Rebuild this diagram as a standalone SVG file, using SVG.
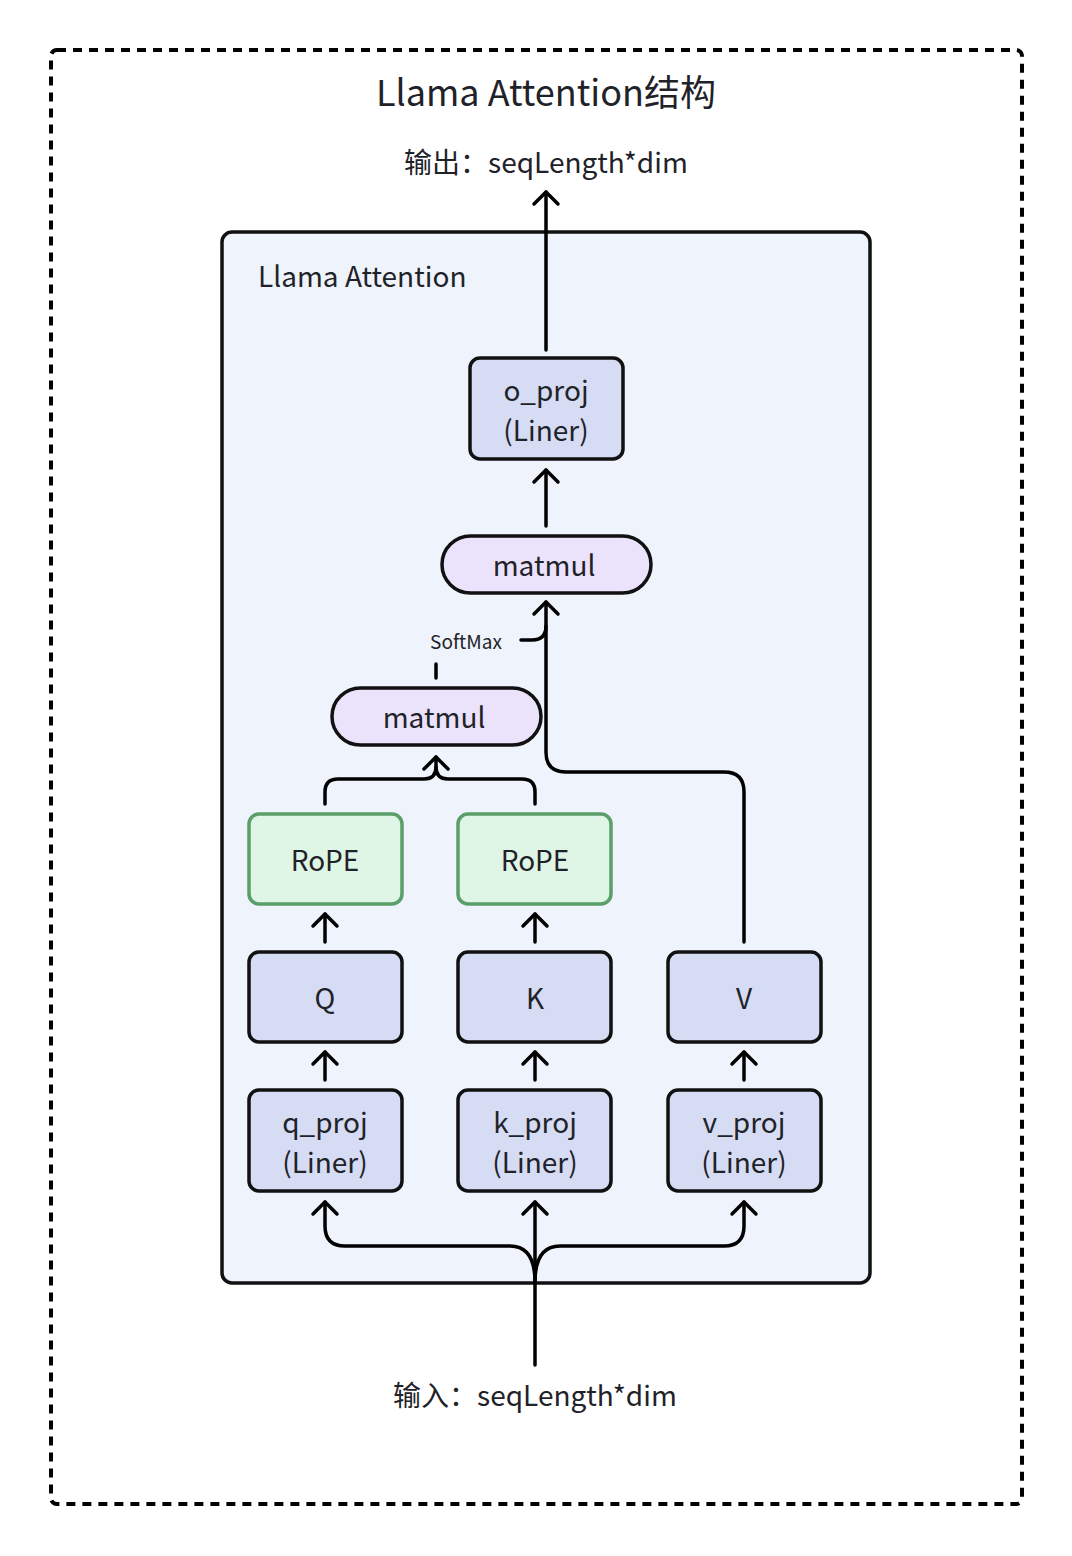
<svg xmlns="http://www.w3.org/2000/svg" width="1072" height="1556" viewBox="0 0 1072 1556">
<style>
text{font-family:"Noto Sans CJK SC","Noto Sans",sans-serif;fill:#1f2329;text-anchor:middle}
.n{fill:#d6dcf3;stroke:#111;stroke-width:3.5}
.m{fill:#ebe2fb;stroke:#111;stroke-width:3.5}
.r{fill:#dff5e5;stroke:#5a9e6a;stroke-width:3.5}
.t{font-size:28px}
.c{fill:none;stroke:#000;stroke-width:3.5;stroke-linecap:round;stroke-linejoin:round}
</style>
<defs>
<marker id="a" viewBox="0 0 30 30" refX="15" refY="15" markerWidth="30" markerHeight="30" markerUnits="userSpaceOnUse" orient="auto">
<path d="M3,3 L15,15 L3,27" fill="none" stroke="#000" stroke-width="3.5" stroke-linecap="round" stroke-linejoin="round"/>
</marker>
</defs>
<rect width="1072" height="1556" fill="#fff"/>
<rect id="frame" x="51" y="50" width="971" height="1454" rx="6" fill="none" stroke="#000" stroke-width="4" stroke-dasharray="9 7"/>
<text x="546" y="106" font-size="36">Llama Attention结构</text>
<text x="546" y="173" font-size="28">输出：seqLength*dim</text>
<text x="535" y="1406" font-size="28">输入：seqLength*dim</text>
<g id="container">
<rect x="222" y="232" width="648" height="1051" rx="10" fill="#eff3fc" stroke="#111" stroke-width="3.5"/>
<text x="258" y="287" font-size="28" style="text-anchor:start">Llama Attention</text>
</g>
<g id="connectors">
<path class="c" d="M546 350 V192" marker-end="url(#a)"/>
<path class="c" d="M546 526 V470" marker-end="url(#a)"/>
<path class="c" d="M744 942 V792 Q744 772 724 772 H566 Q546 772 546 752 V602" marker-end="url(#a)"/>
<path class="c" d="M521 640 H532 Q546 640 546 626"/>
<path class="c" d="M436 664 V678"/>
<path class="c" d="M325 804 V792 Q325 779 338 779 H424 Q436 779 436 767 V757" marker-end="url(#a)"/>
<path class="c" d="M535 804 V792 Q535 779 522 779 H448 Q436 779 436 767"/>
<path class="c" d="M325 942 V914" marker-end="url(#a)"/>
<path class="c" d="M535 942 V914" marker-end="url(#a)"/>
<path class="c" d="M325 1080 V1052" marker-end="url(#a)"/>
<path class="c" d="M535 1080 V1052" marker-end="url(#a)"/>
<path class="c" d="M744 1080 V1052" marker-end="url(#a)"/>
<path class="c" d="M535 1365 V1202" marker-end="url(#a)"/>
<path class="c" d="M535 1282 Q535 1246 510 1246 H345 Q325 1246 325 1226 V1202" marker-end="url(#a)"/>
<path class="c" d="M535 1282 Q535 1246 560 1246 H724 Q744 1246 744 1226 V1202" marker-end="url(#a)"/>
</g>
<g id="o_proj"><rect class="n" x="470" y="358" width="153" height="101" rx="10"/><text class="t" x="546" y="401">o_proj</text><text class="t" x="546" y="441">(Liner)</text></g>
<g id="matmul2"><rect class="m" x="442" y="536" width="209" height="57" rx="28.5"/><text class="t" x="544" y="576">matmul</text></g>
<text x="466" y="649" font-size="19">SoftMax</text>
<g id="matmul1"><rect class="m" x="332" y="688" width="209" height="57" rx="28.5"/><text class="t" x="434" y="728">matmul</text></g>
<g id="rope_q"><rect class="r" x="249" y="814" width="153" height="90" rx="10"/><text class="t" x="325" y="871">RoPE</text></g>
<g id="rope_k"><rect class="r" x="458" y="814" width="153" height="90" rx="10"/><text class="t" x="535" y="871">RoPE</text></g>
<g id="q"><rect class="n" x="249" y="952" width="153" height="90" rx="10"/><text class="t" x="325" y="1009">Q</text></g>
<g id="k"><rect class="n" x="458" y="952" width="153" height="90" rx="10"/><text class="t" x="535" y="1009">K</text></g>
<g id="v"><rect class="n" x="668" y="952" width="153" height="90" rx="10"/><text class="t" x="744" y="1009">V</text></g>
<g id="q_proj"><rect class="n" x="249" y="1090" width="153" height="101" rx="10"/><text class="t" x="325" y="1133">q_proj</text><text class="t" x="325" y="1173">(Liner)</text></g>
<g id="k_proj"><rect class="n" x="458" y="1090" width="153" height="101" rx="10"/><text class="t" x="535" y="1133">k_proj</text><text class="t" x="535" y="1173">(Liner)</text></g>
<g id="v_proj"><rect class="n" x="668" y="1090" width="153" height="101" rx="10"/><text class="t" x="744" y="1133">v_proj</text><text class="t" x="744" y="1173">(Liner)</text></g>
</svg>
